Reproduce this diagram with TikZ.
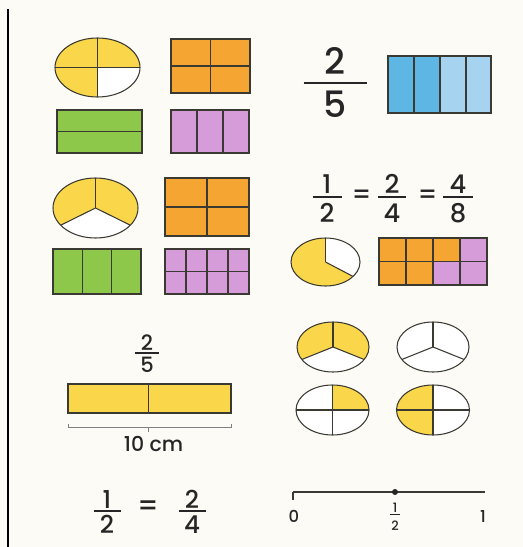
\documentclass[tikz,border=0pt]{standalone}
\usepackage{fontspec}
\setmainfont{Poppins Medium}
\definecolor{paper}{HTML}{FDFBF6}
\definecolor{ink}{HTML}{3A3A32}
\definecolor{sun}{HTML}{FAD64A}
\definecolor{peel}{HTML}{F5A531}
\definecolor{leaf}{HTML}{8DC84B}
\definecolor{lilac}{HTML}{D69CD9}
\definecolor{skydark}{HTML}{5DB6E4}
\definecolor{skylight}{HTML}{A6D3F0}

\begin{document}
\begin{tikzpicture}[x=0.3mm, y=-0.3mm,
    part/.style={draw=ink, line width=0.9pt},
    digit/.style={anchor=base, inner sep=0pt, text=black!85}]
  % page and left rule
  \fill[paper] (0,0) rectangle (523,547);
  \useasboundingbox (0,0) rectangle (523,547);
  \draw[line width=1.2pt] (8,9) -- (8,547);

  % ellipses: centre, radii, shaded sector, fill, cut lines
  \foreach \cx/\cy/\rx/\ry/\a/\b/\col/\cuts in {
      97.5/67.5/42.5/29.5/90/360/sun/{0,90,180,270},
      95.5/208/42.5/30/145/395/sun/{270,35,145},
      325.5/262/34.5/24/37/270/sun/{270,37},
      333/347/36/25/150/390/sun/{270,30,150},
      433/347/36/25/0/360/white/{270,30,150},
      332.5/410/36.5/25/270/360/sun/{0,90,180,270},
      433/410/36.5/25/90/270/sun/{0,90,180,270}} {
    \fill[white] (\cx,\cy) ellipse [x radius=\rx, y radius=\ry];
    \fill[\col] (\cx,\cy) -- ++(\a:{\rx} and {\ry})
      arc [start angle=\a, end angle=\b, x radius=\rx, y radius=\ry] -- cycle;
    \foreach \t in \cuts
      \draw[part] (\cx,\cy) -- ++(\t:{\rx} and {\ry});
    \draw[part] (\cx,\cy) ellipse [x radius=\rx, y radius=\ry];
  }

  % grid rectangles
  \foreach \xa/\ya/\xb/\yb/\nc/\nr/\col in {
      171/39/250/93/2/2/peel, 57/110/142/153/1/2/leaf,
      171/110/249/153/3/1/lilac, 165/178/249/236/2/2/peel,
      53/249/141/294/3/1/leaf, 165/249/249/294/4/2/lilac} {
    \draw[part, fill=\col] (\xa,\ya) rectangle (\xb,\yb);
    \foreach \i in {1,...,\nc}
      \draw[part] ({\xa+\i*(\xb-\xa)/\nc},\ya) -- ({\xa+\i*(\xb-\xa)/\nc},\yb);
    \foreach \j in {1,...,\nr}
      \draw[part] (\xa,{\ya+\j*(\yb-\ya)/\nr}) -- (\xb,{\ya+\j*(\yb-\ya)/\nr});
  }

  % blue fifths
  \fill[skydark] (388,56) rectangle (440,113);
  \fill[skylight] (440,56) rectangle (491,113);
  \foreach \x in {414,440,466}
    \draw[part] (\x,56) -- (\x,113);
  \draw[part] (388,56) rectangle (491,113);

  % mixed eighths
  \foreach \i/\j/\col in {0/0/peel,1/0/peel,2/0/peel,3/0/lilac,
                          0/1/peel,1/1/peel,2/1/lilac,3/1/lilac}
    \draw[part, fill=\col] ({379+27*\i},{238+23.5*\j}) rectangle ++(27,23.5);

  % yellow strip with length
  \draw[part, fill=sun] (68,384) rectangle (231,413);
  \draw[part, line width=0.6pt] (148,384) -- (148,413);
  \draw[gray, line width=0.6pt] (68,424) -- (68,427) -- (231,427) -- (231,424);
  \draw[gray, line width=0.6pt] (148,427) -- (148,432);
  \node[digit, font=\fontsize{17.5}{17.5}\selectfont] (len) at (153.5,451) {10 cm};

  % fractions
  \foreach \n/\x/\nb/\by/\db/\hw/\fs/\numr/\denr in {
      a/335/75/83/118/31.5/31/2/5,
      b/327/193/197/222/14.5/22/1/2, c/392/193/197/222/14/22/2/4,
      d/458/193/197/222/15/22/4/8, e/147/350/353/372/12/18/2/5,
      f/107/508/511/533/13.5/21/1/2, g/192/508/511/533/13.5/21/2/4,
      h/395/512/514.5/530/5/11/1/2} {
    \node[digit, font=\fontsize{\fs}{\fs}\selectfont] (num\n) at (\x,\nb) {\numr};
    \node[digit, font=\fontsize{\fs}{\fs}\selectfont] (den\n) at (\x,\db) {\denr};
    \draw[line width=1.2pt, black!85] (\x-\hw,\by) -- (\x+\hw,\by);
  }
  \foreach \n/\x/\y/\fs in {p/361.5/197/22, q/427.5/197/22, r/148/508/24}
    \node[inner sep=0pt, text=black!85, font=\fontsize{\fs}{\fs}\selectfont] (eq\n) at (\x,\y) {=};

  % number line
  \coordinate (nl0) at (293,492);
  \coordinate (nl1) at (485,492);
  \draw[ink, line width=0.9pt] (nl0) -- (nl1);
  \draw[ink, line width=0.9pt] (nl0) -- ++(0,8);
  \fill[black!85] (395,492) circle [radius=3];
  \node[digit, font=\fontsize{14}{14}\selectfont] (zero) at (294,522) {0};
  \node[digit, font=\fontsize{14}{14}\selectfont] (one) at (483,522) {1};
\end{tikzpicture}
\end{document}
